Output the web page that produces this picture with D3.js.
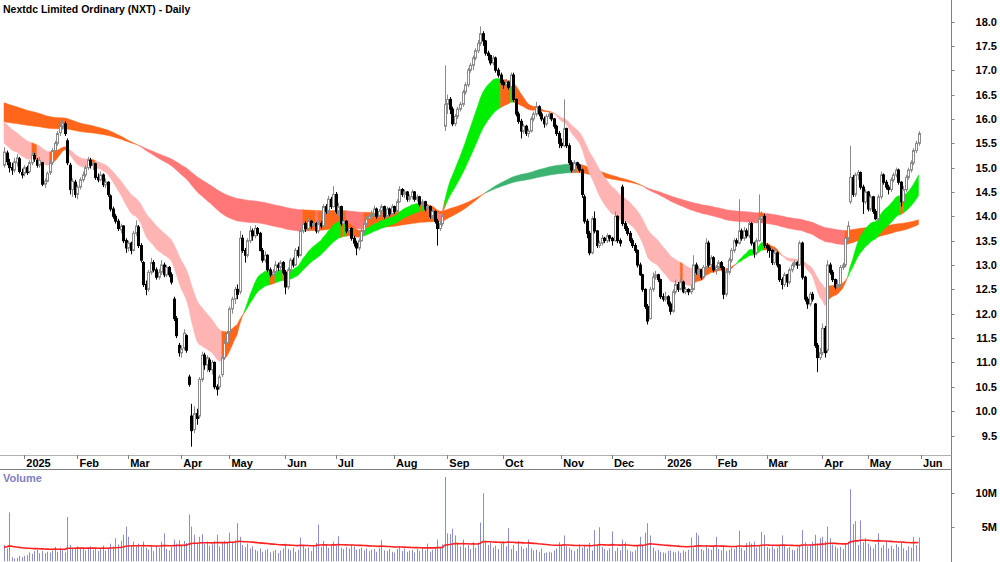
<!DOCTYPE html>
<html>
<head>
<meta charset="utf-8">
<script src="https://cdnjs.cloudflare.com/ajax/libs/d3/7.8.5/d3.min.js"></script>
<style>
  body { margin: 0; background: #fff; }
  svg { display: block; }
  text { font-family: "Liberation Sans", Arial, sans-serif; }
</style>
</head>
<body>
<svg width="1000" height="562"></svg>
<script>
// trading days per month, first entry is the tail of Dec 2024
var monthLabels = ['', '2025', 'Feb', 'Mar', 'Apr', 'May', 'Jun', 'Jul', 'Aug', 'Sep', 'Oct', 'Nov', 'Dec',
  '2026', 'Feb', 'Mar', 'Apr', 'May', 'Jun'];
var monthDays = [8, 21, 20, 21, 19, 22, 20, 23, 21, 22, 23, 20, 21, 20, 20, 22, 18, 21, 0];

var priceTicks = [9.5, 10, 10.5, 11, 11.5, 12, 12.5, 13, 13.5, 14, 14.5, 15, 15.5, 16, 16.5, 17, 17.5, 18];
var volumeTicks = [5, 10];

// open, high, low, close
var bars = [
  [15.05,15.42,15.00,15.32],[15.30,15.35,15.05,15.12],[15.10,15.18,14.90,15.00],[15.00,15.10,14.85,14.95],
  [14.95,15.20,14.90,15.12],[15.10,15.28,15.02,15.20],[15.18,15.22,14.88,14.92],[14.90,14.98,14.78,14.85],
  [14.88,15.05,14.82,15.00],[15.00,15.04,14.85,14.90],[14.92,15.15,14.88,15.10],[15.10,15.32,15.05,15.25],
  [15.25,15.30,15.12,15.18],[15.15,15.20,15.00,15.05],[15.05,15.22,15.00,15.15],[15.10,15.12,14.62,14.66],
  [14.66,14.78,14.58,14.72],[14.72,14.92,14.70,14.88],[14.90,15.15,14.85,15.10],[15.10,15.40,15.05,15.35],
  [15.35,15.55,15.30,15.50],[15.50,15.75,15.45,15.70],[15.72,15.92,15.65,15.85],[15.85,15.98,15.78,15.92],
  [15.90,15.95,15.65,15.70],[15.55,15.60,15.05,15.10],[15.05,15.10,14.45,14.55],[14.55,14.78,14.40,14.72],
  [14.70,14.75,14.38,14.45],
  [14.45,14.65,14.35,14.60],[14.60,14.80,14.55,14.75],[14.75,14.92,14.70,14.85],[14.85,15.05,14.80,15.00],
  [15.00,15.22,14.95,15.15],[15.15,15.20,14.98,15.05],[15.05,15.15,14.95,15.10],[15.08,15.10,14.75,14.80],
  [14.80,14.88,14.70,14.75],[14.75,14.92,14.72,14.85],[14.85,14.88,14.60,14.65],[14.65,14.78,14.58,14.70],
  [14.70,14.72,14.40,14.45],[14.42,14.45,14.10,14.15],[14.15,14.20,13.95,14.00],[14.00,14.05,13.85,13.90],
  [13.90,13.95,13.70,13.75],[13.72,13.85,13.65,13.80],[13.80,13.82,13.45,13.50],[13.50,13.55,13.25,13.35],
  [13.35,13.50,13.28,13.45],[13.45,13.48,13.22,13.30],[13.30,13.70,13.28,13.65],[13.65,13.92,13.60,13.80],
  [13.78,13.82,13.35,13.40],[13.40,13.45,13.05,13.10],[13.05,13.08,12.55,12.60],[12.60,12.68,12.38,12.50],
  [12.50,12.90,12.45,12.85],[12.85,13.15,12.80,13.05],[13.05,13.10,12.85,12.90],[12.90,12.95,12.70,12.75],
  [12.75,12.92,12.70,12.85],[12.85,13.10,12.80,13.00],[13.00,13.05,12.75,12.80],[12.80,13.00,12.75,12.95],
  [12.95,12.98,12.75,12.80],[12.80,12.85,12.60,12.65],[12.30,12.35,11.85,11.90],[11.90,11.95,11.50,11.55],
  [11.35,11.40,11.12,11.20],
  [11.20,11.35,11.10,11.28],[11.30,11.68,11.25,11.60],[11.55,11.58,11.20,11.25],[10.70,10.75,10.50,10.55],
  [9.90,10.15,9.27,9.60],[9.62,10.10,9.55,9.95],[9.95,10.05,9.72,9.85],[9.90,10.70,9.85,10.65],
  [10.65,11.22,10.60,11.15],[11.15,11.20,10.85,10.95],[10.95,11.15,10.80,11.10],[11.05,11.10,10.80,10.85],
  [10.85,11.05,10.75,11.00],[11.00,11.02,10.45,10.50],[10.50,10.55,10.32,10.45],[10.50,10.75,10.45,10.70],
  [10.75,11.15,10.70,11.10],[11.10,11.45,11.05,11.40],[11.40,11.65,11.35,11.60],
  [11.62,12.15,11.60,12.10],[12.10,12.35,12.00,12.30],[12.30,12.55,12.20,12.50],[12.50,12.60,12.30,12.40],
  [12.45,13.70,12.40,13.55],[13.55,13.62,13.25,13.30],[13.30,13.35,13.05,13.20],[13.20,13.55,13.15,13.50],
  [13.50,13.80,13.45,13.70],[13.70,13.75,13.50,13.60],[13.60,13.82,13.55,13.75],[13.75,13.78,13.60,13.65],
  [13.65,13.68,13.28,13.30],[13.30,13.35,13.05,13.10],[13.10,13.28,13.05,13.20],[13.20,13.22,12.85,12.90],
  [12.90,12.95,12.75,12.80],[12.80,12.92,12.75,12.85],[12.85,13.08,12.80,13.00],[13.00,13.05,12.88,12.95],
  [12.95,13.10,12.90,13.05],[13.05,13.08,12.80,12.85],
  [12.85,12.90,12.40,12.55],[12.55,12.95,12.50,12.90],[12.90,13.15,12.85,13.10],[13.10,13.15,12.95,13.00],
  [13.00,13.35,12.98,13.30],[13.30,13.38,13.15,13.20],[13.20,13.75,13.18,13.70],[13.70,13.98,13.65,13.85],
  [13.85,13.90,13.68,13.75],[13.75,13.95,13.70,13.90],[13.90,13.92,13.75,13.80],[13.80,13.90,13.72,13.85],
  [13.85,13.88,13.65,13.70],[13.70,13.92,13.65,13.85],[13.85,13.90,13.75,13.80],[13.80,14.25,13.78,14.20],
  [14.20,14.25,14.05,14.10],[14.10,14.42,14.05,14.35],[14.35,14.40,14.15,14.20],[14.20,14.62,14.18,14.45],
  [14.45,14.50,14.05,14.10],[14.10,14.28,14.00,14.20],[14.20,14.22,13.80,13.85],[13.85,13.98,13.78,13.90],
  [13.90,13.92,13.65,13.70],[13.70,13.80,13.62,13.75],[13.75,13.78,13.50,13.55],[13.55,13.60,13.38,13.45],
  [13.45,13.50,13.20,13.35],[13.35,13.55,13.30,13.50],[13.50,13.75,13.48,13.70],[13.70,13.90,13.65,13.85],
  [13.85,14.00,13.80,13.95],[13.95,14.05,13.88,14.00],[14.00,14.12,13.92,14.05],[14.05,14.22,14.00,14.15],
  [14.15,14.18,13.95,14.00],[14.00,14.15,13.95,14.10],[14.10,14.25,14.05,14.20],[14.20,14.22,13.95,14.00],
  [14.00,14.20,13.98,14.15],[14.15,14.18,14.00,14.05],[14.05,14.25,14.02,14.20],
  [14.20,14.22,14.05,14.10],[14.10,14.35,14.08,14.30],[14.30,14.62,14.28,14.55],[14.55,14.58,14.40,14.45],
  [14.45,14.55,14.38,14.50],[14.50,14.52,14.30,14.35],[14.35,14.45,14.30,14.40],[14.40,14.55,14.35,14.50],
  [14.50,14.52,14.30,14.35],[14.35,14.45,14.30,14.40],[14.40,14.42,14.20,14.25],[14.25,14.35,14.20,14.30],
  [14.30,14.32,14.10,14.15],[14.15,14.25,14.10,14.20],[14.20,14.22,13.95,14.00],[14.00,14.15,13.95,14.10],
  [14.10,14.12,13.85,13.90],[13.90,13.95,13.40,13.75],[13.75,13.90,13.70,13.85],[13.85,14.05,13.80,14.00],
  [15.85,17.10,15.75,16.30],
  [16.30,16.50,16.10,16.40],[16.40,16.45,16.10,16.20],[16.20,16.25,15.85,15.90],[15.90,16.10,15.85,16.05],
  [16.05,16.25,16.00,16.20],[16.20,16.35,16.15,16.30],[16.30,16.60,16.25,16.55],[16.55,16.75,16.50,16.70],
  [16.70,17.05,16.65,17.00],[17.00,17.15,16.95,17.10],[17.10,17.30,17.00,17.25],[17.25,17.45,17.20,17.40],
  [17.40,17.62,17.35,17.55],[17.55,17.90,17.50,17.75],[17.75,17.80,17.50,17.60],[17.60,17.62,17.30,17.35],
  [17.35,17.40,17.20,17.30],[17.30,17.32,17.10,17.15],[17.15,17.30,17.10,17.25],[17.25,17.28,16.95,17.00],
  [17.00,17.05,16.85,16.90],[16.90,16.95,16.70,16.75],
  [16.75,16.80,16.62,16.70],[16.70,16.82,16.65,16.75],[16.75,16.78,16.60,16.65],[16.65,16.95,16.60,16.90],
  [16.90,16.95,16.35,16.40],[16.40,16.42,16.05,16.10],[16.10,16.15,15.90,15.95],[15.95,16.00,15.60,15.75],
  [15.75,15.90,15.70,15.85],[15.85,15.88,15.65,15.70],[15.70,15.80,15.62,15.75],[15.75,16.05,15.72,16.00],
  [16.00,16.15,15.95,16.10],[16.10,16.35,16.05,16.25],[16.25,16.28,16.05,16.10],[16.10,16.15,15.95,16.00],
  [16.00,16.05,15.82,15.90],[15.90,16.10,15.85,16.05],[16.05,16.15,16.00,16.10],[16.10,16.12,15.95,16.00],
  [16.00,16.02,15.80,15.85],[15.85,15.88,15.65,15.70],[15.70,15.75,15.40,15.50],
  [15.50,15.60,15.40,15.45],[15.45,16.40,15.42,15.80],[15.80,15.82,15.40,15.45],[15.45,15.50,15.05,15.10],
  [15.10,15.15,14.90,14.95],[14.95,15.15,14.90,15.10],[15.10,15.12,14.98,15.05],[15.05,15.08,14.90,14.95],
  [14.95,14.98,14.38,14.45],[14.40,14.45,13.85,13.90],[13.90,13.95,13.55,13.65],[13.65,13.70,13.20,13.25],
  [13.25,14.00,13.22,13.95],[13.95,14.10,13.65,13.70],[13.70,13.72,13.35,13.40],[13.40,13.50,13.35,13.45],
  [13.45,13.62,13.40,13.55],[13.55,13.58,13.45,13.50],[13.50,13.65,13.45,13.60],[13.60,13.62,13.48,13.55],
  [13.55,13.58,13.40,13.50],[13.50,14.10,13.48,14.00],[14.00,14.02,13.45,13.50],[13.50,13.55,13.38,13.45],
  [14.60,14.65,13.80,13.85],[13.85,13.90,13.70,13.75],[13.75,13.80,13.60,13.65],[13.65,13.70,13.45,13.50],
  [13.50,13.55,13.35,13.40],[13.40,13.45,13.25,13.30],[13.30,13.32,12.95,13.00],[13.00,13.05,12.78,12.80],
  [12.80,12.82,12.45,12.50],[12.50,12.52,12.10,12.15],[12.15,12.20,11.78,11.85],[11.90,12.55,11.88,12.50],
  [12.50,12.85,12.45,12.75],[12.75,12.88,12.70,12.80],[12.80,12.82,12.65,12.70],[12.70,12.72,12.30,12.35],
  [12.35,12.42,12.25,12.30],
  [12.30,12.45,12.25,12.35],[12.35,12.38,12.15,12.20],[12.20,12.25,11.98,12.05],[12.05,12.50,12.02,12.45],
  [12.45,12.70,12.40,12.60],[12.60,12.65,12.45,12.50],[12.50,12.72,12.48,12.65],[12.65,12.68,12.42,12.45],
  [12.45,12.55,12.40,12.50],[12.50,12.52,12.38,12.45],[12.45,12.60,12.40,12.50],[12.50,13.20,12.48,13.00],
  [13.00,13.05,12.80,12.85],[12.85,12.98,12.80,12.90],[12.90,12.92,12.70,12.75],[12.75,13.00,12.72,12.95],
  [12.95,13.55,12.92,13.45],[13.45,13.50,12.95,13.00],[13.00,13.20,12.95,13.15],[13.15,13.18,12.85,12.90],
  [12.90,13.00,12.80,12.95],[12.95,13.10,12.90,13.05],[13.05,13.08,12.90,12.95],[12.95,12.98,12.30,12.40],
  [12.40,12.90,12.35,12.85],[12.85,13.15,12.80,13.10],[13.10,13.35,13.05,13.30],[13.30,13.55,13.25,13.50],
  [13.50,13.55,13.38,13.45],[13.45,14.35,13.42,13.70],[13.70,13.75,13.50,13.55],[13.55,13.78,13.50,13.70],
  [13.70,13.75,13.55,13.60],[13.60,13.92,13.55,13.85],[13.85,13.88,13.40,13.45],[13.45,13.48,13.15,13.25],
  [13.25,13.55,13.20,13.50],[13.50,14.45,13.48,13.95],[13.95,14.10,13.90,14.00],[14.00,14.05,13.35,13.40],
  [13.40,13.45,13.25,13.35],[13.35,13.40,13.15,13.30],[13.30,13.32,13.00,13.05],[13.05,13.35,13.00,13.25],
  [13.25,13.28,12.95,13.00],[13.00,13.02,12.65,12.70],[12.70,12.75,12.50,12.60],[12.60,12.85,12.55,12.80],
  [12.80,12.82,12.55,12.65],[12.65,12.95,12.60,12.90],[12.90,13.05,12.85,13.00],[13.00,13.10,12.95,13.05],
  [13.05,13.08,12.92,13.00],[13.00,13.50,12.98,13.45],[13.45,13.48,12.70,12.75],[12.75,12.78,12.25,12.30],
  [12.30,12.35,12.10,12.20],[12.20,12.45,12.15,12.40],[12.40,12.45,12.25,12.30],[12.20,12.22,11.30,11.35],
  [11.35,11.40,10.80,11.10],[11.10,11.30,11.05,11.20],
  [11.20,11.80,11.15,11.70],[11.70,11.75,11.10,11.20],[11.25,13.10,11.20,13.00],[13.00,13.05,12.80,12.85],
  [12.85,12.90,12.65,12.70],[12.70,12.72,12.50,12.55],[12.55,12.70,12.50,12.60],[12.60,13.00,12.55,12.95],
  [12.95,13.05,12.90,13.00],[13.00,13.60,12.95,13.55],[13.55,13.90,13.50,13.80],[14.30,15.45,14.25,14.80],
  [14.80,14.85,14.40,14.45],[14.45,14.90,14.40,14.85],[14.85,14.95,14.75,14.90],[14.90,14.92,14.55,14.60],
  [14.60,14.65,14.05,14.30],[14.30,14.55,14.25,14.50],
  [14.50,14.52,14.10,14.15],[14.15,14.45,14.10,14.40],[14.40,14.42,14.05,14.10],[14.10,14.15,13.92,13.95],
  [13.95,14.45,13.90,14.40],[14.40,14.92,14.35,14.85],[14.85,14.88,14.65,14.70],[14.70,14.75,14.55,14.60],
  [14.60,14.65,14.45,14.55],[14.55,14.80,14.50,14.75],[14.75,14.90,14.70,14.85],[14.85,15.00,14.80,14.95],
  [14.95,14.98,14.65,14.70],[14.70,14.72,14.20,14.30],[14.30,14.62,14.25,14.55],[14.55,14.85,14.50,14.80],
  [14.80,15.00,14.75,14.95],[14.95,15.15,14.90,15.10],[15.10,15.40,15.05,15.35],[15.35,15.55,15.30,15.50],
  [15.50,15.75,15.45,15.70]
];

// millions of shares
var volume = [
  2.4,1.9,7.2,0.6,0.4,0.5,0.8,0.6,
  0.8,0.9,1.3,1.1,1.5,1.7,1.2,1.5,1.2,1.4,1.3,1.6,2.1,1.4,2.0,1.6,1.3,6.5,2.4,1.8,2.0,
  2.2,1.9,2.1,1.6,2.0,2.2,1.7,2.0,1.5,1.9,2.3,1.6,2.0,2.6,2.2,3.4,2.5,3.0,3.9,5.1,
  3.6,2.4,2.9,2.3,2.6,2.1,2.9,2.0,1.7,2.2,1.5,2.4,2.0,2.9,4.1,1.8,1.6,2.1,3.2,2.6,3.1,
  2.4,3.0,2.7,6.9,5.1,3.9,2.8,3.6,4.0,2.6,2.9,2.3,2.5,3.0,3.9,2.2,2.7,3.0,2.8,
  4.2,2.9,3.1,5.6,3.6,2.4,2.1,2.6,1.9,2.2,1.7,1.5,1.9,1.4,1.6,1.8,1.3,1.5,1.7,1.2,1.6,1.9,
  2.6,1.8,1.6,2.0,1.4,1.7,3.5,2.3,1.9,2.0,1.5,2.2,2.7,5.4,2.1,3.0,2.4,2.0,2.5,2.9,
  2.3,3.7,2.0,1.8,2.1,1.9,2.4,2.2,1.7,1.8,2.0,1.6,1.9,1.5,1.7,1.8,1.4,1.9,3.1,1.6,1.5,1.8,1.4,
  1.3,1.8,2.2,1.5,1.9,1.4,1.6,1.7,1.3,1.8,1.5,2.0,1.6,2.6,1.4,1.7,2.0,3.2,2.1,2.5,12.4,
  4.1,4.0,4.8,3.8,2.6,2.2,3.2,2.0,2.4,1.8,2.8,2.0,2.7,5.7,10.0,3.0,2.4,2.7,2.0,2.3,1.8,2.6,
  2.9,2.2,4.9,1.8,2.4,1.5,3.0,2.2,1.8,2.0,3.2,1.9,1.6,1.7,1.4,1.9,1.2,1.3,1.4,1.3,1.6,1.9,2.8,
  2.3,3.8,2.2,2.0,1.7,1.5,1.8,2.5,2.0,2.4,1.9,2.7,1.6,4.6,2.3,5.0,2.1,1.8,1.6,1.9,
  4.4,1.5,2.0,1.6,3.2,2.8,1.7,1.5,1.4,1.6,2.2,3.6,2.4,4.2,5.6,3.8,2.0,1.5,1.7,1.4,1.3,
  1.2,1.5,1.6,1.4,1.3,1.5,1.2,1.6,1.4,1.7,3.5,2.0,4.2,3.8,1.8,1.6,2.4,1.9,1.7,2.2,
  3.6,1.8,1.6,2.1,1.5,1.7,2.0,1.8,2.2,4.5,2.0,1.6,2.7,2.9,2.6,2.9,2.0,2.4,4.3,3.9,
  2.1,1.9,2.2,1.8,2.0,2.4,3.8,2.3,1.9,2.1,1.7,1.6,2.0,2.3,4.6,2.8,2.2,2.5,2.9,3.9,2.6,3.4,
  3.6,2.9,5.1,3.4,2.5,2.2,1.9,2.1,1.8,2.6,2.9,10.6,5.5,5.9,2.4,6.0,2.8,3.4,
  2.6,2.2,1.9,2.5,4.1,2.0,2.4,2.9,1.9,2.3,1.8,2.5,2.1,2.7,1.9,1.6,2.2,2.0,3.6,2.4,3.5
];

// moving average ribbons: [fast, slow] periods and their values on the first bar
var shortPeriods = [18, 34];
var shortSeeds = [15.50, 15.94];
var longPeriods = [150, 230];
var longSeeds = [16.33, 15.94];
var volumePeriod = 60;
var volumeSeed = 2.1;

var svg = d3.select('svg'),
  width = +svg.attr('width'),
  height = +svg.attr('height');

var axisX = 951.5,
  priceBottom = 455,
  volBottom = 561.3;

var x = d3.scaleLinear().domain([0, bars.length - 1]).range([4, 918.5]);
var y = d3.scaleLinear().domain([9.5, 18]).range([435.5, 21.5]);
var yv = d3.scaleLinear().domain([0, 10]).range([volBottom, 493.3]);

function ema(values, period, seed) {
  var k = 2 / (period + 1),
    out = [seed];
  for (var i = 1; i < values.length; i++) {
    out.push(out[i - 1] + k * (values[i] - out[i - 1]));
  }
  return out;
}

var closes = bars.map(function (d) {
  return d[3];
});

function ribbon(periods, seeds) {
  var fast = ema(closes, periods[0], seeds[0]),
    slow = ema(closes, periods[1], seeds[1]);
  return closes.map(function (c, i) {
    var j = i === 0 ? 1 : i;
    var rising = fast[j] > fast[j - 1];
    var state = 'mixed';
    if (fast[i] > slow[i] && rising) state = 'up';
    if (fast[i] < slow[i] && !rising) state = 'down';
    return { i: i, fast: fast[i], slow: slow[i], state: state };
  });
}

// group consecutive bars of one colour, each run overlapping the next by one bar
function runs(rows) {
  var out = [],
    cur = null;
  rows.forEach(function (r) {
    if (!cur || cur.state !== r.state) {
      if (cur) cur.rows.push(r);
      cur = { state: r.state, rows: [] };
      out.push(cur);
    }
    cur.rows.push(r);
  });
  return out;
}

var shortRibbon = ribbon(shortPeriods, shortSeeds);
var longRibbon = ribbon(longPeriods, longSeeds);

var longColors = { up: '#3cb371', down: '#ff7777', mixed: '#ff661a' };
var shortColors = { up: '#00ee00', down: '#ffb4b4', mixed: '#ff661a' };

var band = d3
  .area()
  .x(function (d) {
    return x(d.i);
  })
  .y0(function (d) {
    return y(d.fast);
  })
  .y1(function (d) {
    return y(d.slow);
  });

svg
  .append('clipPath')
  .attr('id', 'plot')
  .append('rect')
  .attr('x', 0)
  .attr('y', 0)
  .attr('width', axisX)
  .attr('height', priceBottom);

var plot = svg.append('g').attr('clip-path', 'url(#plot)');

function drawRibbon(rows, colors) {
  plot
    .append('g')
    .selectAll('path')
    .data(runs(rows))
    .enter()
    .append('path')
    .attr('d', function (d) {
      return band(d.rows);
    })
    .style('fill', function (d) {
      return colors[d.state];
    })
    .style('stroke', function (d) {
      return colors[d.state];
    })
    .style('stroke-width', 0.5);
}

drawRibbon(longRibbon, longColors);
drawRibbon(shortRibbon, shortColors);

// candles
var candle = plot
  .append('g')
  .selectAll('g')
  .data(bars)
  .enter()
  .append('g');

candle
  .append('line')
  .attr('x1', function (d, i) {
    return Math.round(x(i)) + 0.5;
  })
  .attr('x2', function (d, i) {
    return Math.round(x(i)) + 0.5;
  })
  .attr('y1', function (d) {
    return y(d[1]);
  })
  .attr('y2', function (d) {
    return y(d[2]);
  })
  .style('stroke', function (d) {
    return d[3] >= d[0] ? '#8a8a8a' : '#000';
  })
  .style('stroke-width', 1);

candle
  .append('rect')
  .attr('x', function (d, i) {
    return Math.round(x(i)) - 0.5;
  })
  .attr('width', 2)
  .attr('y', function (d) {
    return y(Math.max(d[0], d[3]));
  })
  .attr('height', function (d) {
    return Math.max(1, Math.abs(y(d[0]) - y(d[3])));
  })
  .style('fill', function (d) {
    return d[3] >= d[0] ? '#fff' : '#000';
  })
  .style('stroke', function (d) {
    return d[3] >= d[0] ? '#8a8a8a' : '#000';
  })
  .style('stroke-width', 1);

// frame lines
svg
  .append('line')
  .attr('x1', axisX)
  .attr('x2', axisX)
  .attr('y1', 0)
  .attr('y2', height)
  .style('stroke', '#808080');

svg
  .append('line')
  .attr('x1', 0)
  .attr('x2', axisX)
  .attr('y1', priceBottom + 0.5)
  .attr('y2', priceBottom + 0.5)
  .style('stroke', '#b0b0b0');

svg
  .append('line')
  .attr('x1', 0)
  .attr('x2', axisX)
  .attr('y1', 469.5)
  .attr('y2', 469.5)
  .style('stroke', '#808080');

// price axis
var pAxis = svg.append('g');
pAxis
  .selectAll('line')
  .data(priceTicks)
  .enter()
  .append('line')
  .attr('x1', axisX)
  .attr('x2', axisX + 3)
  .attr('y1', function (d) {
    return Math.round(y(d)) + 0.5;
  })
  .attr('y2', function (d) {
    return Math.round(y(d)) + 0.5;
  })
  .style('stroke', '#808080');
pAxis
  .selectAll('text')
  .data(priceTicks)
  .enter()
  .append('text')
  .attr('x', 997)
  .attr('y', function (d) {
    return y(d) + 4;
  })
  .attr('text-anchor', 'end')
  .style('font-size', '11px')
  .style('font-weight', 'bold')
  .text(d3.format('.1f'));

// month axis
var starts = [];
var acc = 0;
monthDays.forEach(function (n, k) {
  starts.push({ label: monthLabels[k], i: acc });
  acc += n;
});
var months = starts.filter(function (d) {
  return d.label !== '';
});

var mAxis = svg.append('g');
mAxis
  .selectAll('line')
  .data(months)
  .enter()
  .append('line')
  .attr('x1', function (d) {
    return Math.round(x(d.i)) + 0.5;
  })
  .attr('x2', function (d) {
    return Math.round(x(d.i)) + 0.5;
  })
  .attr('y1', priceBottom)
  .attr('y2', priceBottom + 4)
  .style('stroke', '#808080');
mAxis
  .selectAll('text')
  .data(months)
  .enter()
  .append('text')
  .attr('x', function (d) {
    return x(d.i) + 2;
  })
  .attr('y', 467)
  .style('font-size', '11px')
  .style('font-weight', 'bold')
  .text(function (d) {
    return d.label;
  });

// title
svg
  .append('text')
  .attr('x', 3)
  .attr('y', 13)
  .style('font-size', '10.5px')
  .style('font-weight', 'bold')
  .text('Nextdc Limited Ordinary (NXT) - Daily');

// volume
var vol = svg.append('g');
vol
  .selectAll('line')
  .data(volume)
  .enter()
  .append('line')
  .attr('x1', function (d, i) {
    return Math.round(x(i)) + 0.5;
  })
  .attr('x2', function (d, i) {
    return Math.round(x(i)) + 0.5;
  })
  .attr('y1', volBottom)
  .attr('y2', function (d) {
    return yv(d);
  })
  .style('stroke', '#8c8cd2')
  .style('stroke-width', 1);

var volAvg = ema(volume, volumePeriod, volumeSeed);
vol
  .append('path')
  .datum(volAvg)
  .attr(
    'd',
    d3
      .line()
      .x(function (d, i) {
        return x(i);
      })
      .y(function (d) {
        return yv(d);
      })
  )
  .style('fill', 'none')
  .style('stroke', '#ff2020')
  .style('stroke-width', 1.6);

vol
  .append('text')
  .attr('x', 3)
  .attr('y', 482)
  .style('font-size', '11px')
  .style('font-weight', 'bold')
  .style('fill', '#8080c0')
  .text('Volume');

var vAxis = svg.append('g');
vAxis
  .selectAll('line')
  .data(volumeTicks)
  .enter()
  .append('line')
  .attr('x1', axisX)
  .attr('x2', axisX + 3)
  .attr('y1', function (d) {
    return Math.round(yv(d)) + 0.5;
  })
  .attr('y2', function (d) {
    return Math.round(yv(d)) + 0.5;
  })
  .style('stroke', '#808080');
vAxis
  .selectAll('text')
  .data(volumeTicks)
  .enter()
  .append('text')
  .attr('x', 997)
  .attr('y', function (d) {
    return yv(d) + 4;
  })
  .attr('text-anchor', 'end')
  .style('font-size', '11px')
  .style('font-weight', 'bold')
  .text(function (d) {
    return d + 'M';
  });
</script>
</body>
</html>
